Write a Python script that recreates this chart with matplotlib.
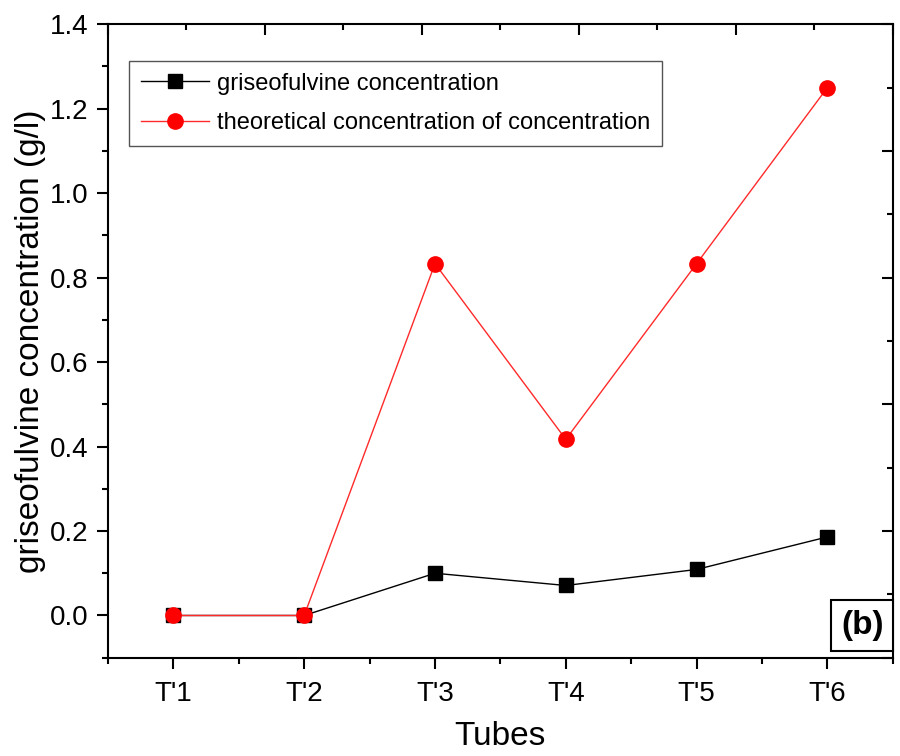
import matplotlib
matplotlib.use("Agg")
import matplotlib.pyplot as plt
from matplotlib.ticker import MultipleLocator, FixedLocator, FormatStrFormatter

plt.rcParams["font.family"] = ["Liberation Sans", "DejaVu Sans"]

tubes = ["T'1", "T'2", "T'3", "T'4", "T'5", "T'6"]
measured = [0.0, 0.0, 0.100, 0.071, 0.109, 0.186]
theoretical = [0.0, 0.0, 0.833, 0.417, 0.833, 1.25]

fig = plt.figure(figsize=(9, 7.56), dpi=100)
ax = fig.add_axes([0.12, 0.13, 0.872, 0.838])

x = list(range(1, len(tubes) + 1))
ax.plot(x, measured, color="black", linewidth=1.0, marker="s", markersize=9.5,
        label="griseofulvine concentration", zorder=3)
ax.plot(x, theoretical, color="#ff2a2a", linewidth=1.0, marker="o", markersize=11,
        markerfacecolor="red", markeredgecolor="red",
        label="theoretical concentration of concentration", zorder=4)

ax.set_xlim(0.5, 6.5)
ax.set_ylim(-0.1, 1.4)
ax.set_xticks(x)
ax.set_xticklabels(tubes)
ax.xaxis.set_minor_locator(FixedLocator([0.5, 1.5, 2.5, 3.5, 4.5, 5.5, 6.5]))
ax.yaxis.set_major_locator(MultipleLocator(0.2))
ax.yaxis.set_minor_locator(MultipleLocator(0.1))
ax.yaxis.set_major_formatter(FormatStrFormatter("%.1f"))

for s in ax.spines.values():
    s.set_linewidth(1.5)
ax.tick_params(which="major", direction="out", length=8, width=1.5, labelsize=20, pad=6)
ax.tick_params(axis="x", which="major", pad=9)
ax.tick_params(which="minor", direction="out", length=4, width=1.5)
ax.tick_params(top=False, right=False)

ax.set_xlabel("Tubes", fontsize=24, labelpad=10)
ax.set_ylabel("griseofulvine concentration (g/l)", fontsize=24, labelpad=3)

# top / right ticks (own scale, inward)
ov = fig.add_axes(ax.get_position(), frameon=False)
ov.set_xlim(0, 1)
ov.set_ylim(0, 1)
ov.patch.set_visible(False)
ov.xaxis.tick_top()
ov.yaxis.tick_right()
ov.xaxis.set_major_locator(MultipleLocator(0.2))
ov.xaxis.set_minor_locator(MultipleLocator(0.1))
ov.yaxis.set_major_locator(MultipleLocator(0.2))
ov.yaxis.set_minor_locator(MultipleLocator(0.1))
ov.tick_params(which="major", direction="in", length=8, width=1.5,
               labeltop=False, labelright=False)
ov.tick_params(which="minor", direction="in", length=4, width=1.5)
ov.set_navigate(False)

leg = ax.legend(loc="upper left", bbox_to_anchor=(0.027, 0.942), borderaxespad=0,
                fontsize=17, handlelength=2.9, handletextpad=0.3, fancybox=False,
                framealpha=1, edgecolor="#555555", labelspacing=0.75, borderpad=0.5)
leg.get_frame().set_linewidth(1.0)

ax.text(0.961, 0.0513, "(b)", transform=ax.transAxes, ha="center", va="center",
        fontsize=24, fontweight="bold",
        bbox=dict(boxstyle="square,pad=0.3", facecolor="white", edgecolor="black",
                  linewidth=1.5))

fig.savefig("out.png", dpi=100)
